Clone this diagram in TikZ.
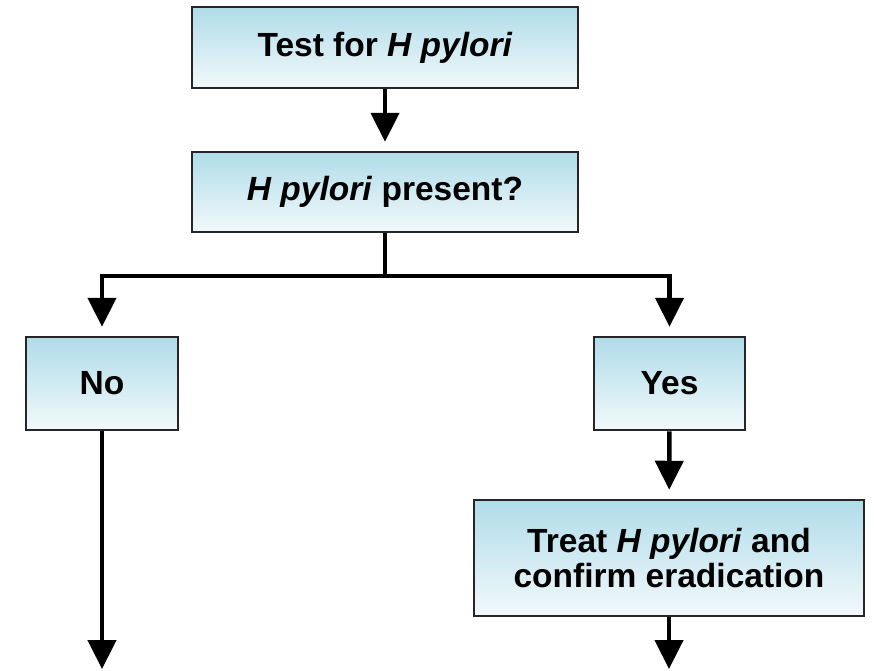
\documentclass[tikz,border=0pt]{standalone}
\usepackage{fontspec}
\setmainfont{Liberation Sans}
\usetikzlibrary{arrows.meta}
\definecolor{boxtop}{RGB}{176,220,233}
\definecolor{boxbot}{RGB}{242,249,251}
\tikzset{
  box/.style={draw=black!85, line width=2.5pt, top color=boxtop, bottom color=boxbot,
    inner sep=0pt, align=center, font=\fontsize{33.5}{35}\selectfont\bfseries},
  arr/.style={line width=4.5pt, -{Triangle[length=29pt,width=28pt]}, shorten >=9pt},
  ln/.style={line width=4.5pt}
}
\begin{document}
\begin{tikzpicture}[x=1pt,y=-1pt]
\useasboundingbox (0,0) rectangle (874,670);
\node[box, minimum width=386pt, minimum height=81pt] (t) at (385,47.5) {Test for \textit{H pylori}};
\node[box, minimum width=386pt, minimum height=80pt] (p) at (385,192) {\textit{H pylori} present?};
\node[box, minimum width=152pt, minimum height=93pt] (no) at (102,383.5) {No};
\node[box, minimum width=151pt, minimum height=93pt] (yes) at (669.5,383.5) {Yes};
\node[box, minimum width=390pt, minimum height=116pt] (tr) at (669,558) {Treat \textit{H pylori} and\\confirm eradication};
\coordinate (split) at (385,276);
\coordinate (noend) at (102,678);
\coordinate (trend) at (669,678);
\draw[arr] (t) -- (p);
\draw[ln] (p.south) -- (split);
\draw[arr] (split) -| (no.north);
\draw[arr] (split) -| (yes.north);
\draw[arr] (no.south) -- (noend);
\draw[arr] (yes) -- (tr);
\draw[arr] (tr.south) -- (trend);
\end{tikzpicture}
\end{document}
